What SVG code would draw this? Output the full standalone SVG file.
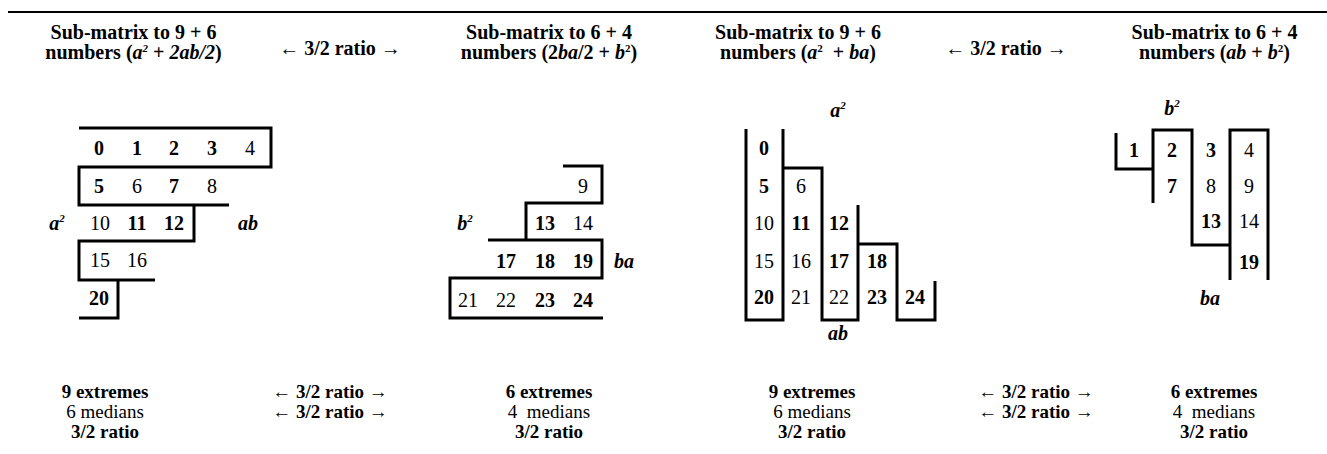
<svg xmlns="http://www.w3.org/2000/svg" width="1327" height="454" viewBox="0 0 1327 454">
<rect width="1327" height="454" fill="#fff"/>
<line x1="8" y1="12" x2="1327" y2="12" stroke="#000" stroke-width="2"/>

<g id="headers">
<text font-family="Liberation Serif" font-size="20" font-weight="bold" text-anchor="middle" x="133.5" y="39">Sub-matrix to 9 + 6</text>
<text font-family="Liberation Serif" font-size="20" font-weight="bold" text-anchor="middle" x="133.5" y="59">numbers (<tspan font-family="Liberation Serif" font-style="italic">a</tspan><tspan font-family="Liberation Serif" font-style="italic" font-size="11" dy="-7">2</tspan><tspan font-family="Liberation Serif" dy="7"> + </tspan><tspan font-family="Liberation Serif" font-style="italic">2ab/2</tspan>)</text>
<text font-family="Liberation Serif" font-size="20" font-weight="bold" text-anchor="middle" x="340" y="55">← 3/2 ratio →</text>
<text font-family="Liberation Serif" font-size="20" font-weight="bold" text-anchor="middle" x="549" y="39">Sub-matrix to 6 + 4</text>
<text font-family="Liberation Serif" font-size="20" font-weight="bold" text-anchor="middle" x="549" y="59">numbers (2<tspan font-family="Liberation Serif" font-style="italic">ba</tspan>/2 + <tspan font-family="Liberation Serif" font-style="italic">b</tspan><tspan font-family="Liberation Serif" font-size="11" dy="-7">2</tspan><tspan font-family="Liberation Serif" dy="7">)</tspan></text>
<text font-family="Liberation Serif" font-size="20" font-weight="bold" text-anchor="middle" x="798" y="39">Sub-matrix to 9 + 6</text>
<text font-family="Liberation Serif" font-size="20" font-weight="bold" text-anchor="middle" x="798" y="59" xml:space="preserve">numbers (<tspan font-family="Liberation Serif" font-style="italic">a</tspan><tspan font-family="Liberation Serif" font-size="11" dy="-7">2</tspan><tspan font-family="Liberation Serif" dy="7">  + </tspan><tspan font-family="Liberation Serif" font-style="italic">ba</tspan>)</text>
<text font-family="Liberation Serif" font-size="20" font-weight="bold" text-anchor="middle" x="1006" y="55">← 3/2 ratio →</text>
<text font-family="Liberation Serif" font-size="20" font-weight="bold" text-anchor="middle" x="1214.5" y="39">Sub-matrix to 6 + 4</text>
<text font-family="Liberation Serif" font-size="20" font-weight="bold" text-anchor="middle" x="1214.5" y="59">numbers (<tspan font-family="Liberation Serif" font-style="italic">ab</tspan> + <tspan font-family="Liberation Serif" font-style="italic">b</tspan><tspan font-family="Liberation Serif" font-size="11" dy="-7">2</tspan><tspan font-family="Liberation Serif" dy="7">)</tspan></text>
</g>

<g id="connectors" fill="none" stroke="#000" stroke-width="3" stroke-linejoin="miter">
<path d="M79,128 H271 V167 H79 V205 H229 M194,205 V241 H79 V280 H155 M118,280 V318 H79"/>
<path d="M563,166 H602 V203 H526 V240 M488,240 H602 V278 H450 V318 H603"/>
<path d="M746,129 V320 H783 V129 M783,168 H822 V320 H858 V205 M858,244 H897 V320 H935 V281"/>
<path d="M1116,133 V169 H1153 M1153,203 V130 H1192 V245 H1230 M1230,280 V130 H1268 V280"/>
</g>

<g id="matrix1">
<text font-family="Liberation Serif" font-size="20" text-anchor="middle" font-weight="bold" x="99" y="155">0</text>
<text font-family="Liberation Serif" font-size="20" text-anchor="middle" font-weight="bold" x="137" y="155">1</text>
<text font-family="Liberation Serif" font-size="20" text-anchor="middle" font-weight="bold" x="174" y="155">2</text>
<text font-family="Liberation Serif" font-size="20" text-anchor="middle" font-weight="bold" x="212" y="155">3</text>
<text font-family="Liberation Serif" font-size="20" text-anchor="middle" x="250" y="155">4</text>
<text font-family="Liberation Serif" font-size="20" text-anchor="middle" font-weight="bold" x="99" y="193">5</text>
<text font-family="Liberation Serif" font-size="20" text-anchor="middle" x="137" y="193">6</text>
<text font-family="Liberation Serif" font-size="20" text-anchor="middle" font-weight="bold" x="174" y="193">7</text>
<text font-family="Liberation Serif" font-size="20" text-anchor="middle" x="212" y="193">8</text>
<text font-family="Liberation Serif" font-size="20" text-anchor="middle" font-weight="bold" font-style="italic" x="57" y="230">a<tspan font-family="Liberation Serif" font-size="11" dy="-8">2</tspan></text>
<text font-family="Liberation Serif" font-size="20" text-anchor="middle" x="100" y="230">10</text>
<text font-family="Liberation Serif" font-size="20" text-anchor="middle" font-weight="bold" x="137" y="230">11</text>
<text font-family="Liberation Serif" font-size="20" text-anchor="middle" font-weight="bold" x="174" y="230">12</text>
<text font-family="Liberation Serif" font-size="20" text-anchor="middle" font-weight="bold" font-style="italic" x="248" y="230">ab</text>
<text font-family="Liberation Serif" font-size="20" text-anchor="middle" x="100" y="267">15</text>
<text font-family="Liberation Serif" font-size="20" text-anchor="middle" x="137" y="267">16</text>
<text font-family="Liberation Serif" font-size="20" text-anchor="middle" font-weight="bold" x="99" y="305">20</text>
</g>

<g id="matrix2">
<text font-family="Liberation Serif" font-size="20" text-anchor="middle" x="583" y="193">9</text>
<text font-family="Liberation Serif" font-size="20" text-anchor="middle" font-weight="bold" font-style="italic" x="465" y="230">b<tspan font-family="Liberation Serif" font-size="11" dy="-8">2</tspan></text>
<text font-family="Liberation Serif" font-size="20" text-anchor="middle" font-weight="bold" x="545" y="230">13</text>
<text font-family="Liberation Serif" font-size="20" text-anchor="middle" x="583" y="230">14</text>
<text font-family="Liberation Serif" font-size="20" text-anchor="middle" font-weight="bold" x="506" y="268">17</text>
<text font-family="Liberation Serif" font-size="20" text-anchor="middle" font-weight="bold" x="545" y="268">18</text>
<text font-family="Liberation Serif" font-size="20" text-anchor="middle" font-weight="bold" x="583" y="268">19</text>
<text font-family="Liberation Serif" font-size="20" text-anchor="middle" font-weight="bold" font-style="italic" x="624" y="268">ba</text>
<text font-family="Liberation Serif" font-size="20" text-anchor="middle" x="468" y="307">21</text>
<text font-family="Liberation Serif" font-size="20" text-anchor="middle" x="506" y="307">22</text>
<text font-family="Liberation Serif" font-size="20" text-anchor="middle" font-weight="bold" x="545" y="307">23</text>
<text font-family="Liberation Serif" font-size="20" text-anchor="middle" font-weight="bold" x="583" y="307">24</text>
</g>

<g id="matrix3">
<text font-family="Liberation Serif" font-size="20" text-anchor="middle" font-weight="bold" font-style="italic" x="838" y="117">a<tspan font-family="Liberation Serif" font-size="11" dy="-8">2</tspan></text>
<text font-family="Liberation Serif" font-size="20" text-anchor="middle" font-weight="bold" x="764" y="155">0</text>
<text font-family="Liberation Serif" font-size="20" text-anchor="middle" font-weight="bold" x="764" y="193">5</text>
<text font-family="Liberation Serif" font-size="20" text-anchor="middle" x="801" y="193">6</text>
<text font-family="Liberation Serif" font-size="20" text-anchor="middle" x="764" y="230">10</text>
<text font-family="Liberation Serif" font-size="20" text-anchor="middle" font-weight="bold" x="801" y="230">11</text>
<text font-family="Liberation Serif" font-size="20" text-anchor="middle" font-weight="bold" x="839" y="230">12</text>
<text font-family="Liberation Serif" font-size="20" text-anchor="middle" x="764" y="268">15</text>
<text font-family="Liberation Serif" font-size="20" text-anchor="middle" x="801" y="268">16</text>
<text font-family="Liberation Serif" font-size="20" text-anchor="middle" font-weight="bold" x="839" y="268">17</text>
<text font-family="Liberation Serif" font-size="20" text-anchor="middle" font-weight="bold" x="877" y="268">18</text>
<text font-family="Liberation Serif" font-size="20" text-anchor="middle" font-weight="bold" x="764" y="304">20</text>
<text font-family="Liberation Serif" font-size="20" text-anchor="middle" x="801" y="304">21</text>
<text font-family="Liberation Serif" font-size="20" text-anchor="middle" x="839" y="304">22</text>
<text font-family="Liberation Serif" font-size="20" text-anchor="middle" font-weight="bold" x="877" y="304">23</text>
<text font-family="Liberation Serif" font-size="20" text-anchor="middle" font-weight="bold" x="915" y="304">24</text>
<text font-family="Liberation Serif" font-size="20" text-anchor="middle" font-weight="bold" font-style="italic" x="838" y="340">ab</text>
</g>

<g id="matrix4">
<text font-family="Liberation Serif" font-size="20" text-anchor="middle" font-weight="bold" font-style="italic" x="1172" y="115">b<tspan font-family="Liberation Serif" font-size="11" dy="-8">2</tspan></text>
<text font-family="Liberation Serif" font-size="20" text-anchor="middle" font-weight="bold" x="1134" y="157">1</text>
<text font-family="Liberation Serif" font-size="20" text-anchor="middle" font-weight="bold" x="1172" y="157">2</text>
<text font-family="Liberation Serif" font-size="20" text-anchor="middle" font-weight="bold" x="1211" y="157">3</text>
<text font-family="Liberation Serif" font-size="20" text-anchor="middle" x="1249" y="157">4</text>
<text font-family="Liberation Serif" font-size="20" text-anchor="middle" font-weight="bold" x="1172" y="193">7</text>
<text font-family="Liberation Serif" font-size="20" text-anchor="middle" x="1211" y="193">8</text>
<text font-family="Liberation Serif" font-size="20" text-anchor="middle" x="1249" y="193">9</text>
<text font-family="Liberation Serif" font-size="20" text-anchor="middle" font-weight="bold" x="1211" y="228">13</text>
<text font-family="Liberation Serif" font-size="20" text-anchor="middle" x="1249" y="228">14</text>
<text font-family="Liberation Serif" font-size="20" text-anchor="middle" font-weight="bold" x="1249" y="269">19</text>
<text font-family="Liberation Serif" font-size="20" text-anchor="middle" font-weight="bold" font-style="italic" x="1210" y="305">ba</text>
</g>

<g id="footer">
<text font-family="Liberation Serif" font-size="19" text-anchor="middle" font-weight="bold" x="105" y="398">9 extremes</text>
<text font-family="Liberation Serif" font-size="19" text-anchor="middle" x="105" y="418">6 medians</text>
<text font-family="Liberation Serif" font-size="19" text-anchor="middle" font-weight="bold" x="105" y="438">3/2 ratio</text>
<text font-family="Liberation Serif" font-size="19" text-anchor="middle" font-weight="bold" x="330" y="398">← 3/2 ratio →</text>
<text font-family="Liberation Serif" font-size="19" text-anchor="middle" font-weight="bold" x="330" y="418">← 3/2 ratio →</text>
<text font-family="Liberation Serif" font-size="19" text-anchor="middle" font-weight="bold" x="549" y="398">6 extremes</text>
<text font-family="Liberation Serif" font-size="19" text-anchor="middle" x="549" y="418" xml:space="preserve">4  medians</text>
<text font-family="Liberation Serif" font-size="19" text-anchor="middle" font-weight="bold" x="549" y="438">3/2 ratio</text>
<text font-family="Liberation Serif" font-size="19" text-anchor="middle" font-weight="bold" x="812" y="398">9 extremes</text>
<text font-family="Liberation Serif" font-size="19" text-anchor="middle" x="812" y="418">6 medians</text>
<text font-family="Liberation Serif" font-size="19" text-anchor="middle" font-weight="bold" x="812" y="438">3/2 ratio</text>
<text font-family="Liberation Serif" font-size="19" text-anchor="middle" font-weight="bold" x="1036" y="398">← 3/2 ratio →</text>
<text font-family="Liberation Serif" font-size="19" text-anchor="middle" font-weight="bold" x="1036" y="418">← 3/2 ratio →</text>
<text font-family="Liberation Serif" font-size="19" text-anchor="middle" font-weight="bold" x="1214" y="398">6 extremes</text>
<text font-family="Liberation Serif" font-size="19" text-anchor="middle" x="1214" y="418" xml:space="preserve">4  medians</text>
<text font-family="Liberation Serif" font-size="19" text-anchor="middle" font-weight="bold" x="1214" y="438">3/2 ratio</text>
</g>
</svg>
